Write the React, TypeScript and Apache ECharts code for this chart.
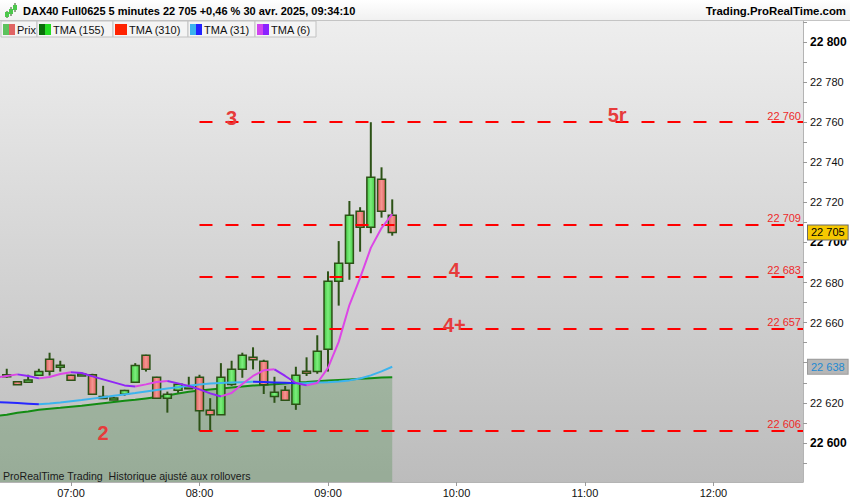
import { useEffect, useRef } from "react";
import * as echarts from "echarts";

const FONT = '"Liberation Sans", Arial, Helvetica, sans-serif';

// 5-minute candles, 06:30 -> 09:30
const candleTimes = [
  "06:30", "06:35", "06:40", "06:45", "06:50", "06:55", "07:00", "07:05", "07:10", "07:15",
  "07:20", "07:25", "07:30", "07:35", "07:40", "07:45", "07:50", "07:55", "08:00", "08:05",
  "08:10", "08:15", "08:20", "08:25", "08:30", "08:35", "08:40", "08:45", "08:50", "08:55",
  "09:00", "09:05", "09:10", "09:15", "09:20", "09:25", "09:30",
];
const opens = [
  22633.0, 22630.5, 22630.3, 22633.8, 22641.7, 22638.4, 22633.8, 22634.0, 22634.0, 22622.8,
  22622.0, 22624.3, 22630.3, 22643.7, 22632.8, 22622.3, 22626.3, 22627.5, 22632.8, 22616.3,
  22614.1, 22629.1, 22636.7, 22642.7, 22640.7, 22623.1, 22626.3, 22619.3, 22635.8, 22635.6,
  22646.7, 22680.6, 22689.6, 22715.6, 22707.6, 22731.5, 22713.6,
];
const closes = [
  22634.0, 22629.0, 22631.4, 22635.6, 22635.8, 22638.8, 22631.3, 22634.4, 22624.3, 22623.1,
  22622.4, 22626.1, 22638.6, 22636.7, 22622.3, 22624.3, 22629.3, 22628.0, 22616.1, 22614.1,
  22632.8, 22636.7, 22643.7, 22641.5, 22629.0, 22625.3, 22621.3, 22633.8, 22634.8, 22645.7,
  22680.6, 22689.6, 22713.6, 22707.6, 22732.5, 22715.6, 22705.0,
];
const lows = [
  22632.5, 22629.0, 22630.0, 22633.5, 22633.6, 22635.6, 22631.0, 22633.5, 22624.0, 22622.6,
  22621.5, 22623.5, 22630.0, 22635.6, 22622.0, 22615.1, 22625.0, 22627.3, 22606.0, 22606.0,
  22614.0, 22628.5, 22632.5, 22636.7, 22624.4, 22620.0, 22621.0, 22616.5, 22633.4, 22634.5,
  22635.6, 22668.5, 22681.4, 22695.4, 22704.6, 22712.4, 22703.4,
];
const highs = [
  22637.0, 22630.5, 22634.0, 22637.0, 22645.0, 22641.0, 22634.0, 22635.0, 22634.5, 22628.5,
  22623.0, 22626.5, 22639.8, 22644.0, 22633.0, 22625.6, 22629.5, 22633.0, 22634.0, 22622.3,
  22639.8, 22641.0, 22645.0, 22647.7, 22641.5, 22633.0, 22628.4, 22638.0, 22642.7, 22653.7,
  22685.6, 22700.7, 22720.7, 22717.6, 22760.0, 22737.5, 22721.5,
];

// moving averages start one bar earlier (06:25) so they reach the left edge
const lineTimes = ["06:25", ...candleTimes];
const tma155 = [
  22613.5, 22614.0, 22615.0, 22615.7, 22616.5, 22617.1, 22617.5, 22618.0, 22618.5, 22619.2,
  22619.8, 22620.4, 22621.0, 22621.5, 22622.2, 22622.9, 22623.7, 22624.7, 22625.5, 22626.1,
  22626.6, 22627.1, 22627.6, 22628.1, 22628.6, 22628.9, 22629.3, 22629.7, 22630.1, 22630.4,
  22630.8, 22631.1, 22631.4, 22631.7, 22632.0, 22632.3, 22632.6, 22632.8,
];
const tma31 = [
  22620.4, 22620.2, 22619.9, 22619.6, 22619.3, 22619.7, 22620.2, 22620.8, 22621.4, 22622.1,
  22622.8, 22623.5, 22624.2, 22624.9, 22625.7, 22626.4, 22627.1, 22627.8, 22628.5, 22629.1,
  22629.6, 22629.9, 22630.1, 22630.3, 22630.5, 22630.4, 22630.2, 22630.0, 22629.8, 22629.9,
  22630.1, 22630.3, 22630.7, 22631.2, 22632.1, 22633.7, 22635.7, 22638.0,
];
const tma6 = [
  22632.6, 22633.4, 22634.2, 22633.4, 22632.2, 22632.9, 22634.4, 22635.2, 22634.9, 22633.2,
  22631.7, 22630.2, 22628.7, 22628.2, 22629.2, 22630.4, 22630.9, 22629.7, 22628.4, 22626.7,
  22624.7, 22623.2, 22624.9, 22629.4, 22633.4, 22636.2, 22636.7, 22633.4, 22629.9, 22628.7,
  22629.9, 22637.4, 22650.4, 22668.8, 22682.3, 22697.3, 22707.2, 22714.2,
];

// horizontal levels drawn from 08:00
const levelPrices = [22760, 22709, 22683, 22657, 22606];
const levelStart = "08:00";

// hand-written tags on the chart
const tagTexts = ["3", "5r", "4", "4+", "2"];
const tagTimes = ["08:15", "11:15", "09:59", "09:59", "07:15"];
const tagPrices = [22762, 22763.5, 22686.3, 22658.9, 22605];

const hourLabels = ["07:00", "08:00", "09:00", "10:00", "11:00", "12:00"];
const priceLabels = [22600, 22620, 22640, 22660, 22680, 22700, 22720, 22740, 22760, 22780, 22800];
const priceTicks = [
  22590, 22600, 22610, 22620, 22630, 22640, 22650, 22660, 22670, 22680, 22690, 22700,
  22710, 22720, 22730, 22740, 22750, 22760, 22770, 22780, 22790, 22800, 22810,
];
const boldPrices = [22600, 22700, 22800];

const legendItems = [
  { label: "Prix", x: 1, w: 36, c1: "#5cc25c", c2: "#e06464" },
  { label: "TMA (155)", x: 37, w: 76, c1: "#0b6e0b", c2: "#22dd22" },
  { label: "TMA (310)", x: 113, w: 75, c1: "#ff2200", c2: "#ff2200" },
  { label: "TMA (31)", x: 188, w: 67, c1: "#3ab2ee", c2: "#2222ff" },
  { label: "TMA (6)", x: 255, w: 61, c1: "#d044ee", c2: "#8a22ff" },
];

const toMin = (s: string) => Number(s.slice(0, 2)) * 60 + Number(s.slice(3));
const fmtPrice = (v: number) => String(Math.round(v)).replace(/\B(?=(\d{3})+(?!\d))/g, " ");
const fmtTime = (m: number) =>
  String(Math.floor(m / 60)).padStart(2, "0") + ":" + String(Math.round(m % 60)).padStart(2, "0");

// x range of the plot (minutes since midnight)
const X_MIN = 386.85;
const X_MAX = 761.8;
const Y_MIN = 22580.5;
const Y_MAX = 22810.5;

// split a line into rising / falling pieces (ProRealTime colours by slope)
function trendPieces(ts: number[], vals: number[], rising: boolean) {
  const out: any[] = [];
  let last = -2;
  for (let i = 1; i < vals.length; i++) {
    const up = vals[i] >= vals[i - 1];
    if (up !== rising) continue;
    if (last !== i - 1) {
      if (out.length) out.push([ts[i - 1], "-"]);
      out.push([ts[i - 1], vals[i - 1]]);
    }
    out.push([ts[i], vals[i]]);
    last = i;
  }
  return out;
}

// value box on the price scale (current price, last TMA value)
function priceBox(value: number, bg: string, border: string, color: string) {
  return {
    silent: true,
    symbol: ["none", "none"],
    lineStyle: { color: "rgba(0,0,0,0)", width: 0 },
    data: [
      {
        yAxis: value,
        label: {
          show: true,
          position: "end",
          distance: 5,
          formatter: fmtPrice(value),
          backgroundColor: bg,
          borderColor: border,
          borderWidth: 1,
          padding: [2, 3, 1, 3],
          color,
          fontSize: 11,
          fontFamily: FONT,
        },
      },
    ],
  };
}

function App() {
  const chartRef = useRef<HTMLDivElement>(null);

  useEffect(() => {
    document.body.style.margin = "0";
    const chart = echarts.init(chartRef.current, null, { renderer: "svg" });

    const cT = candleTimes.map(toMin);
    const lT = lineTimes.map(toMin);
    const candleData = cT.map((t, i) => [t, opens[i], closes[i], lows[i], highs[i]]);

    const wick = "#2c5216";
    const greenFill = new echarts.graphic.LinearGradient(0, 0, 1, 0, [
      { offset: 0, color: "#44c844" },
      { offset: 0.5, color: "#7cee7c" },
      { offset: 1, color: "#44c844" },
    ]);
    const redFill = new echarts.graphic.LinearGradient(0, 0, 1, 0, [
      { offset: 0, color: "#e26060" },
      { offset: 0.5, color: "#f49590" },
      { offset: 1, color: "#e26060" },
    ]);

    const trendLine = (name: string, data: any[], color: string) => ({
      name,
      type: "line",
      data,
      symbol: "none",
      connectNulls: false,
      z: 6,
      lineStyle: { color, width: 2 },
      silent: true,
    });

    const legendGraphics: any[] = [];
    legendItems.forEach((it) => {
      legendGraphics.push(
        {
          type: "rect",
          shape: { x: it.x, y: 21, width: it.w, height: 16 },
          style: { fill: "#f4f4f4", stroke: "#c2c2c2", lineWidth: 1 },
        },
        { type: "rect", shape: { x: it.x + 2, y: 24, width: 6, height: 11 }, style: { fill: it.c1 } },
        { type: "rect", shape: { x: it.x + 8, y: 24, width: 6, height: 11 }, style: { fill: it.c2 } },
        {
          type: "text",
          x: it.x + 16,
          y: 29.5,
          style: { text: it.label, fill: "#111", font: `11px ${FONT}`, textVerticalAlign: "middle" },
        }
      );
    });

    const option: any = {
      animation: false,
      backgroundColor: "#ffffff",
      grid: {
        left: 0,
        right: 47,
        top: 21,
        bottom: 18,
        show: true,
        borderWidth: 0,
        outerBoundsMode: "none",
        backgroundColor: new echarts.graphic.LinearGradient(0, 0, 0, 1, [
          { offset: 0, color: "#eeeeee" },
          { offset: 1, color: "#bcbcbc" },
        ]),
      },
      xAxis: {
        type: "value",
        min: X_MIN,
        max: X_MAX,
        axisLine: { show: true, lineStyle: { color: "#b4b4b4" } },
        axisTick: {
          show: true,
          length: 4,
          customValues: hourLabels.map(toMin),
          lineStyle: { color: "#9a9a9a" },
        },
        axisLabel: {
          customValues: hourLabels.map(toMin),
          formatter: (v: number) => fmtTime(v),
          color: "#111",
          fontSize: 11,
          fontFamily: FONT,
          margin: 5,
        },
        splitLine: { show: false },
      },
      yAxis: {
        type: "value",
        position: "right",
        min: Y_MIN,
        max: Y_MAX,
        axisLine: { show: true, lineStyle: { color: "#b4b4b4" } },
        axisTick: { show: true, length: 4, customValues: priceTicks, lineStyle: { color: "#9a9a9a" } },
        axisLabel: {
          customValues: priceLabels,
          margin: 7,
          color: "#111",
          fontSize: 11,
          fontFamily: FONT,
          formatter: (v: number) =>
            boldPrices.includes(v) ? `{b|${fmtPrice(v)}}` : fmtPrice(v),
          rich: { b: { fontWeight: "bold", fontSize: 12, color: "#000", fontFamily: FONT } },
        },
        splitLine: { show: false },
      },
      series: [
        {
          name: "TMA (155)",
          type: "line",
          data: lT.map((t, i) => [t, tma155[i]]),
          symbol: "none",
          z: 2,
          silent: true,
          lineStyle: { color: "#138c13", width: 2 },
          areaStyle: { origin: "start", color: "rgba(52,128,52,0.38)" },
        },
        {
          name: "Prix",
          type: "custom",
          z: 4,
          silent: true,
          data: candleData,
          encode: { x: 0, y: [1, 2, 3, 4] },
          renderItem: (_params: any, api: any) => {
            const t = api.value(0);
            const o = api.value(1);
            const c = api.value(2);
            const lo = api.coord([t, api.value(3)]);
            const hi = api.coord([t, api.value(4)]);
            const po = api.coord([t, o]);
            const pc = api.coord([t, c]);
            const w = api.size([5, 0])[0] * 0.74;
            const top = Math.min(po[1], pc[1]);
            const h = Math.max(Math.abs(po[1] - pc[1]), 2);
            return {
              type: "group",
              children: [
                {
                  type: "line",
                  shape: { x1: hi[0], y1: hi[1], x2: lo[0], y2: lo[1] },
                  style: { stroke: wick, lineWidth: 2 },
                },
                {
                  type: "rect",
                  shape: { x: po[0] - w / 2, y: top, width: w, height: h },
                  style: { fill: c >= o ? greenFill : redFill, stroke: wick, lineWidth: 1.5 },
                },
              ],
            };
          },
          markLine: priceBox(closes[closes.length - 1], "#f6c800", "#6a6a6a", "#000"),
        },
        trendLine("TMA (31) up", trendPieces(lT, tma31, true), "#3cb4ee"),
        trendLine("TMA (31) down", trendPieces(lT, tma31, false), "#2626ff"),
        {
          ...trendLine("TMA (31) mark", [], "#3cb4ee"),
          markLine: priceBox(tma31[tma31.length - 1], "#b6b6b6", "#9a9a9a", "#1f8ad2"),
        },
        trendLine("TMA (6) up", trendPieces(lT, tma6, true), "#dc46e6"),
        trendLine("TMA (6) down", trendPieces(lT, tma6, false), "#9026f6"),
        {
          name: "levels",
          type: "line",
          data: [],
          z: 8,
          silent: true,
          markLine: {
            silent: true,
            symbol: ["none", "none"],
            lineStyle: { color: "#ff0000", width: 2, type: [13, 13] },
            label: {
              show: true,
              position: "insideEndTop",
              distance: [2, 1],
              color: "#ee2a2a",
              fontSize: 11,
              fontFamily: FONT,
            },
            data: levelPrices.map((p) => [
              { coord: [toMin(levelStart), p], label: { formatter: fmtPrice(p) } },
              { coord: [X_MAX, p] },
            ]),
          },
          markPoint: {
            silent: true,
            symbol: "circle",
            symbolSize: 0,
            label: {
              show: true,
              position: "inside",
              color: "#e63b3b",
              fontSize: 20,
              fontWeight: "bold",
              fontFamily: FONT,
            },
            data: tagTexts.map((txt, i) => ({
              coord: [toMin(tagTimes[i]), tagPrices[i]],
              label: { formatter: txt },
            })),
          },
        },
      ],
      graphic: [
        {
          type: "rect",
          shape: { x: 0, y: 0, width: 850, height: 20 },
          style: {
            fill: new echarts.graphic.LinearGradient(0, 0, 0, 1, [
              { offset: 0, color: "#ffffff" },
              { offset: 1, color: "#f1f1f1" },
            ]),
          },
        },
        { type: "line", shape: { x1: 0, y1: 20.5, x2: 850, y2: 20.5 }, style: { stroke: "#c4c4c4", lineWidth: 1 } },
        { type: "line", shape: { x1: 7, y1: 11, x2: 7, y2: 18 }, style: { stroke: wick, lineWidth: 1 } },
        { type: "rect", shape: { x: 5, y: 12, width: 4, height: 5 }, style: { fill: "#4cc84c" } },
        { type: "line", shape: { x1: 11, y1: 7, x2: 11, y2: 16 }, style: { stroke: wick, lineWidth: 1 } },
        { type: "rect", shape: { x: 9, y: 9, width: 4, height: 5 }, style: { fill: "#4cc84c" } },
        { type: "line", shape: { x1: 15, y1: 3, x2: 15, y2: 12 }, style: { stroke: wick, lineWidth: 1 } },
        { type: "rect", shape: { x: 13, y: 5, width: 4, height: 5 }, style: { fill: "#4cc84c" } },
        {
          type: "text",
          x: 23,
          y: 11,
          style: {
            text: "DAX40 Full0625 5 minutes 22 705 +0,46 % 30 avr. 2025, 09:34:10",
            fill: "#000",
            font: `bold 11px ${FONT}`,
            textVerticalAlign: "middle",
          },
        },
        {
          type: "text",
          x: 846,
          y: 11,
          style: {
            text: "Trading.ProRealTime.com",
            fill: "#000",
            font: `bold 11.4px ${FONT}`,
            textAlign: "right",
            textVerticalAlign: "middle",
          },
        },
        ...legendGraphics,
        {
          type: "text",
          x: 3,
          y: 476,
          z: 20,
          style: {
            text: "ProRealTime Trading  Historique ajusté aux rollovers",
            fill: "#1a1a1a",
            font: `10.6px ${FONT}`,
            textVerticalAlign: "middle",
          },
        },
      ],
    };

    chart.setOption(option);

    return () => {
      chart.dispose();
    };
  }, []);

  return <div ref={chartRef} style={{ width: 850, height: 500 }} />;
}

export default App;
